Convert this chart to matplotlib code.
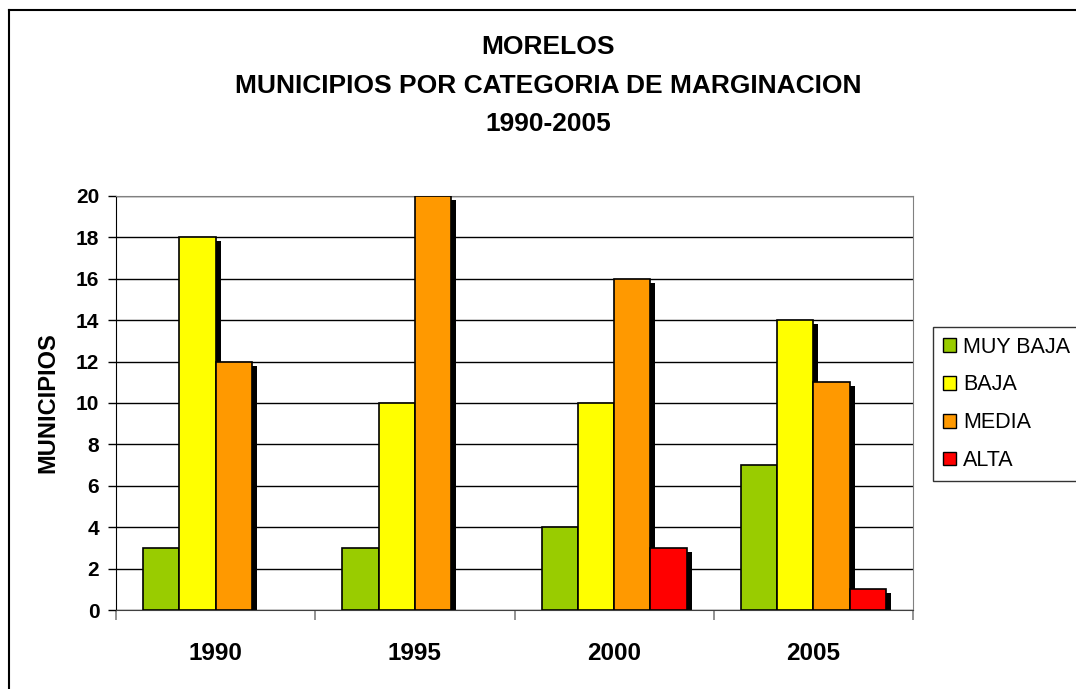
import numpy as np
import matplotlib.pyplot as plt
from matplotlib.lines import Line2D

plt.rcParams['font.family'] = ['Liberation Sans', 'DejaVu Sans']

years = ['1990', '1995', '2000', '2005']
series = ['MUY BAJA', 'BAJA', 'MEDIA', 'ALTA']
muy_baja = [3, 3, 4, 7]
baja = [18, 10, 10, 14]
media = [12, 20, 16, 11]
alta = [0, 0, 3, 1]
colors = ['#99CC00', '#FFFF00', '#FF9900', '#FF0000']

fig = plt.figure(figsize=(10.76, 6.89), dpi=100)
ax = fig.add_axes([116/1076, 1-610/689, 797/1076, 414/689])

x = np.arange(len(years))
w = 1/5.5
vals = [muy_baja, baja, media, alta]
for i, v in enumerate(vals):
    v = np.array(v, dtype=float)
    keep = v > 0
    pos = (x - 2*w + (i+0.5)*w)[keep]
    v = v[keep]
    # sombra negra desplazada
    ax.bar(pos + 0.025, np.maximum(v - 0.19, 0), w, color='black', zorder=2)
    ax.bar(pos, v, w, color=colors[i], edgecolor='black', linewidth=1.2, zorder=3)

ax.set_xlim(-0.5, 3.5)
ax.set_ylim(0, 20)
ax.set_yticks(np.arange(0, 21, 2))
ax.yaxis.grid(True, color='black', linewidth=1)
ax.set_axisbelow(True)
ax.tick_params(axis='y', length=6, width=1, labelsize=15, pad=6)
for t in ax.get_yticklabels():
    t.set_fontweight('bold')

ax.set_xticks(np.arange(-0.5, 4, 1))
ax.set_xticklabels([])
ax.set_xticks(x, minor=True)
ax.set_xticklabels(years, minor=True, fontsize=17.5, fontweight='bold')
ax.tick_params(axis='x', which='major', length=7, color='#808080', width=1.2)
ax.tick_params(axis='x', which='minor', length=0, pad=23)

ax.spines['left'].set_color('black')
ax.spines['bottom'].set_color('#404040')
ax.spines['right'].set_color('#808080')
ax.spines['top'].set_color('#808080')

ax.set_ylabel('MUNICIPIOS', fontsize=17, fontweight='bold', labelpad=12)

fig.text(548/1076, 1-47/689, 'MORELOS', ha='center', va='center', fontsize=19, fontweight='bold')
fig.text(548/1076, 1-86/689, 'MUNICIPIOS POR CATEGORIA DE MARGINACION', ha='center', va='center', fontsize=19, fontweight='bold')
fig.text(548/1076, 1-124/689, '1990-2005', ha='center', va='center', fontsize=19, fontweight='bold')

handles = [plt.Rectangle((0, 0), 1, 1, facecolor=c, edgecolor='black', linewidth=1) for c in colors]
leg = fig.legend(handles, series, loc='upper left', bbox_to_anchor=(933/1076, 1-327/689),
                 frameon=True, fancybox=False, edgecolor='black', fontsize=15.5,
                 handlelength=0.6, handleheight=0.6, handletextpad=0.35, labelspacing=0.78,
                 borderpad=0.45, borderaxespad=0)
leg.get_frame().set_linewidth(1)

fig.add_artist(Line2D([9/1076, 1], [1-10/689, 1-10/689], color='black', linewidth=1.5))
fig.add_artist(Line2D([9/1076, 9/1076], [0, 1-10/689], color='black', linewidth=1.5))

fig.savefig('out.png', dpi=100)
